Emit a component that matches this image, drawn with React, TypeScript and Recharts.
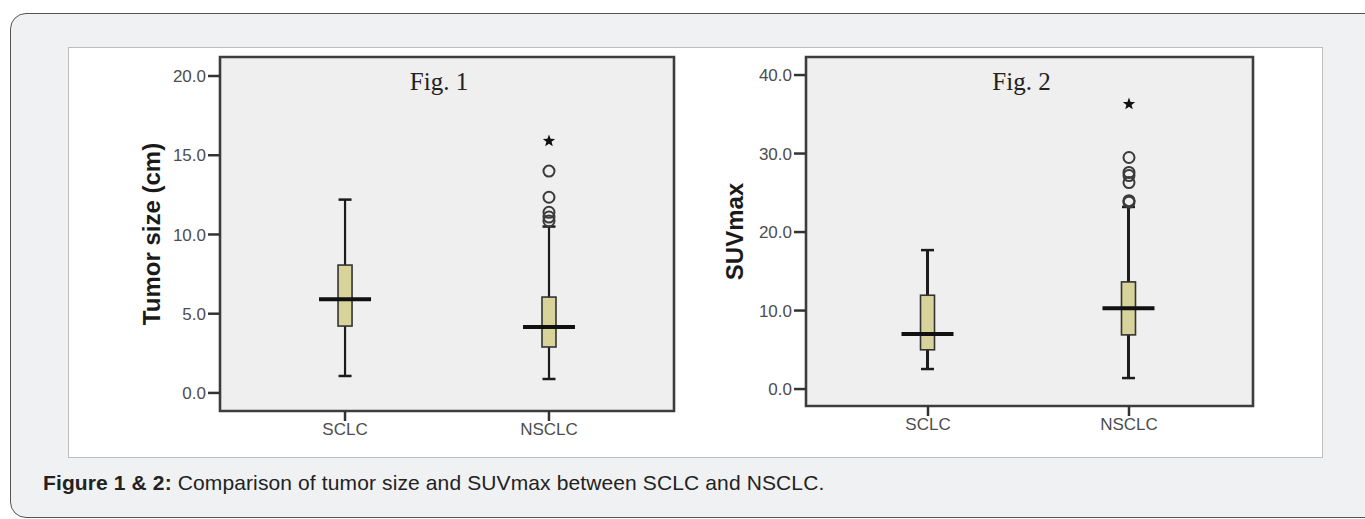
import React from "react";
import {
    ComposedChart,
    Bar,
    Scatter,
    XAxis,
    YAxis,
    CartesianGrid,
    ReferenceArea,
} from "recharts";

const groups = ["SCLC", "NSCLC"];

// Fig. 1 - tumor size (cm)
const sizeBoxes = [
    { x: 1, min: 1.07, q1: 4.22, median: 5.92, q3: 8.07, max: 12.2 },
    { x: 2, min: 0.88, q1: 2.9, median: 4.16, q3: 6.05, max: 10.5 },
];
const sizeOutliers = [
    { x: 2, v: 14.0 },
    { x: 2, v: 12.35 },
    { x: 2, v: 11.4 },
    { x: 2, v: 11.1 },
    { x: 2, v: 10.85 },
];
const sizeExtremes = [{ x: 2, v: 15.9 }];
const sizeTicks = [0, 5, 10, 15, 20];

// Fig. 2 - SUVmax
const suvBoxes = [
    { x: 1, min: 2.55, q1: 5.0, median: 7.0, q3: 11.95, max: 17.7 },
    { x: 2, min: 1.4, q1: 6.9, median: 10.3, q3: 13.65, max: 23.2 },
];
const suvOutliers = [
    { x: 2, v: 29.5 },
    { x: 2, v: 27.6 },
    { x: 2, v: 27.2 },
    { x: 2, v: 26.3 },
    { x: 2, v: 24.0 },
    { x: 2, v: 23.8 },
];
const suvExtremes = [{ x: 2, v: 36.3 }];
const suvTicks = [0, 10, 20, 30, 40];

const INK = "#1c1c1c";
const AXIS_GREY = "#4d4d4d";
const tickFont = { fontFamily: "'Liberation Sans', Arial, sans-serif", fontSize: 17, fill: AXIS_GREY };

function BoxShape(props: any) {
    const { x, y, width, height, payload, whisker } = props;
    const d = payload;
    const cx = x + width / 2;
    // map a value to pixels inside the whisker range the bar was given
    const py = (v: number) => y + (height * (d.max - v)) / (d.max - d.min);
    const boxW = 14;
    const capW = 13;
    return (
        <g>
            <line x1={cx} x2={cx} y1={py(d.max)} y2={py(d.min)} stroke={INK} strokeWidth={whisker} />
            <line x1={cx - capW / 2} x2={cx + capW / 2} y1={py(d.max)} y2={py(d.max)} stroke={INK} strokeWidth={2.5} />
            <line x1={cx - capW / 2} x2={cx + capW / 2} y1={py(d.min)} y2={py(d.min)} stroke={INK} strokeWidth={2.5} />
            <rect
                x={cx - boxW / 2}
                y={py(d.q3)}
                width={boxW}
                height={py(d.q1) - py(d.q3)}
                fill="#d8d39b"
                stroke="#333"
                strokeWidth={1.6}
            />
            <line x1={x} x2={x + width} y1={py(d.median)} y2={py(d.median)} stroke="#111" strokeWidth={4} />
        </g>
    );
}

function Circle(p: any) {
    return <circle cx={p.cx} cy={p.cy} r={5.5} fill="none" stroke="#3a3a3a" strokeWidth={2} />;
}

function Star(p: any) {
    const pts: string[] = [];
    for (let i = 0; i < 10; i++) {
        const r = i % 2 === 0 ? 6.5 : 2.7;
        const a = -Math.PI / 2 + (i * Math.PI) / 5;
        pts.push(`${p.cx + r * Math.cos(a)},${p.cy + r * Math.sin(a)}`);
    }
    return <polygon points={pts.join(" ")} fill="#111" />;
}

type PanelProps = {
    left: number;
    width: number;
    yAxisWidth: number;
    marginRight: number;
    marginBottom: number;
    boxes: typeof sizeBoxes;
    outliers: { x: number; v: number }[];
    extremes: { x: number; v: number }[];
    ticks: number[];
    yDomain: [number, number];
    xDomain: [number, number];
    title: string;
    yLabel: string;
    labelX: number;
    whisker: number;
};

function Panel(p: PanelProps) {
    return (
        <div style={{ position: "absolute", left: p.left, top: 47 }}>
            <ComposedChart
                width={p.width}
                height={410}
                data={p.boxes}
                margin={{ top: 10, right: p.marginRight, bottom: p.marginBottom, left: 0 }}
            >
                <CartesianGrid horizontal={false} vertical={false} fill="#efefef" />
                <XAxis
                    dataKey="x"
                    type="number"
                    domain={p.xDomain}
                    ticks={[1, 2]}
                    allowDataOverflow
                    tickFormatter={(v) => groups[v - 1]}
                    axisLine={false}
                    tickSize={10}
                    tickMargin={2}
                    tickLine={{ stroke: "#333", strokeWidth: 2.5 }}
                    tick={tickFont}
                    height={40}
                />
                <YAxis
                    type="number"
                    domain={p.yDomain}
                    ticks={p.ticks}
                    allowDataOverflow
                    tickFormatter={(v) => Number(v).toFixed(1)}
                    axisLine={false}
                    tickSize={12}
                    tickMargin={2}
                    tickLine={{ stroke: "#333", strokeWidth: 2.5 }}
                    tick={tickFont}
                    width={p.yAxisWidth}
                    label={{
                        value: p.yLabel,
                        angle: -90,
                        position: "insideLeft",
                        offset: p.labelX,
                        textAnchor: "middle",
                        style: {
                            fontFamily: "'Liberation Sans', Arial, sans-serif",
                            fontWeight: 700,
                            fontSize: 24,
                            fill: "#1a1a1a",
                            textAnchor: "middle",
                        },
                    }}
                />
                <ReferenceArea
                    x1={p.xDomain[0]}
                    x2={p.xDomain[1]}
                    y1={p.yDomain[0]}
                    y2={p.yDomain[1]}
                    fill="none"
                    stroke="#3d3d3d"
                    strokeWidth={2.6}
                    ifOverflow="visible"
                    label={{
                        value: p.title,
                        position: "insideTop",
                        offset: 15,
                        dx: -8,
                        style: { fontFamily: "'Liberation Serif', 'Times New Roman', serif", fontSize: 25, fill: "#222" },
                    }}
                />
                <Bar
                    dataKey={(d: any) => [d.min, d.max]}
                    barSize={52}
                    isAnimationActive={false}
                    shape={(s: any) => <BoxShape {...s} whisker={p.whisker} />}
                />
                <Scatter data={p.outliers} dataKey="v" shape={Circle} isAnimationActive={false} />
                <Scatter data={p.extremes} dataKey="v" shape={Star} isAnimationActive={false} />
            </ComposedChart>
        </div>
    );
}

export default function App() {
    return (
        <div
            style={{
                position: "absolute",
                left: 0,
                top: 0,
                width: 1365,
                height: 519,
                overflow: "hidden",
                background: "#fff",
            }}
        >
            <div
                style={{
                    position: "absolute",
                    left: 10,
                    top: 13,
                    width: 1380,
                    height: 503,
                    background: "#f0f1f3",
                    border: "1.5px solid #555",
                    borderRadius: 16,
                }}
            />
            <div
                style={{
                    position: "absolute",
                    left: 68,
                    top: 47,
                    width: 1253,
                    height: 409,
                    background: "#fff",
                    border: "1px solid #bdbdbd",
                }}
            />
            <Panel
                left={68}
                width={620}
                yAxisWidth={152}
                marginRight={14}
                marginBottom={6}
                boxes={sizeBoxes}
                outliers={sizeOutliers}
                extremes={sizeExtremes}
                ticks={sizeTicks}
                yDomain={[-1.14, 21.2]}
                xDomain={[0.387, 2.613]}
                title="Fig. 1"
                yLabel="Tumor size (cm)"
                labelX={83}
                whisker={2.2}
            />
            <Panel
                left={680}
                width={600}
                yAxisWidth={126}
                marginRight={27}
                marginBottom={11}
                boxes={suvBoxes}
                outliers={suvOutliers}
                extremes={suvExtremes}
                ticks={suvTicks}
                yDomain={[-2.16, 42.3]}
                xDomain={[0.393, 2.617]}
                title="Fig. 2"
                yLabel="SUVmax"
                labelX={54}
                whisker={3}
            />
            <div
                style={{
                    position: "absolute",
                    left: 43,
                    top: 471,
                    fontFamily: "'Liberation Sans', Arial, sans-serif",
                    fontSize: 21,
                    letterSpacing: 0.12,
                    color: "#222",
                    whiteSpace: "nowrap",
                }}
            >
                <b>Figure 1 &amp; 2:</b> Comparison of tumor size and SUVmax between SCLC and NSCLC.
            </div>
        </div>
    );
}
